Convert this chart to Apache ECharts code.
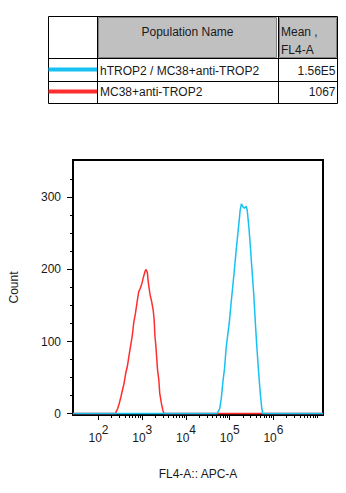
<!DOCTYPE html>
<html>
<head>
<meta charset="utf-8">
<script src="https://cdn.jsdelivr.net/npm/echarts@6/dist/echarts.min.js"></script>
<style>
html,body{margin:0;padding:0;background:#fff;}
#chart{width:346px;height:493px;}
</style>
</head>
<body>
<div id="chart"></div>
<script>
// ---- data (x in log10 decades of FL4-A fluorescence, y = count) ----
const xMin = 1.416, xMax = 7.133;   // displayed range of the FL4-A axis (decades)
const yMin = -2, yMax = 352;

const redName = 'MC38+anti-TROP2';
const redMean = '1067';
const redX = [1.416, 2.384, 2.438, 2.473, 2.511, 2.549, 2.584, 2.622, 2.660, 2.696, 2.733, 2.771, 2.807, 2.844, 2.882, 2.918, 2.956, 2.993, 3.029, 3.067, 3.089, 3.118, 3.140, 3.178, 3.216, 3.251, 3.273, 3.289, 3.311, 3.327, 3.349, 3.378, 3.400, 3.438, 3.473, 3.496, 7.133];
const redCount = [0, 0, 7, 14, 23, 33, 42, 56, 66, 80, 94, 108, 127, 139, 155, 169, 174, 181, 190, 198, 200, 195, 181, 165, 155, 143, 129, 108, 94, 80, 61, 47, 28, 14, 4, 0, 0];

const blueName = 'hTROP2 / MC38+anti-TROP2';
const blueMean = '1.56E5';
const blueX = [1.416, 4.711, 4.771, 4.807, 4.844, 4.882, 4.918, 4.956, 4.993, 5.029, 5.067, 5.104, 5.140, 5.178, 5.216, 5.238, 5.267, 5.304, 5.340, 5.378, 5.400, 5.438, 5.473, 5.511, 5.549, 5.584, 5.622, 5.660, 5.696, 5.733, 5.756, 7.133];
const blueCount = [0, 0, 7, 21, 44, 63, 91, 110, 128, 152, 175, 198, 222, 245, 268, 282, 291, 287, 285, 288, 282, 259, 231, 198, 166, 128, 91, 58, 30, 7, 0, 0];

const xMajorDecades = [2, 3, 4, 5, 6];
const xMinorMultipliers = [2, 3, 4, 5, 6, 7, 8, 9];
const yMajorTicks = [0, 100, 200, 300];
const yMinorTicks = [25, 50, 75, 125, 150, 175, 225, 250, 275, 325];

const tableHeader = ['Population Name', 'Mean ,', 'FL4-A'];
const xTitle = 'FL4-A:: APC-A';
const yTitle = 'Count';

// ---- build ----
const xMinor = [];
xMajorDecades.forEach(function (d) {
  xMinorMultipliers.forEach(function (k) { xMinor.push(d + Math.log10(k)); });
});
xMinor.push(7);

const pairs = (xs, ys) => xs.map((x, i) => [x, ys[i]]);

const FONT = '"Liberation Sans", Arial, sans-serif';
const RED = '#ff2d2d';
const BLUE = '#17c1f2';
const TXT = '#1a1a1a';

const chart = echarts.init(document.getElementById('chart'), null, {renderer: 'svg'});

const graphics = [
  // table outer frame
  {type: 'rect', shape: {x: 48.5, y: 16.5, width: 289, height: 87}, style: {fill: '#fff', stroke: '#000', lineWidth: 1}, z: 1},
  // header gray cells
  {type: 'rect', shape: {x: 98.5, y: 17.5, width: 178, height: 40}, style: {fill: '#c0c0c0', stroke: '#808080', lineWidth: 1}, z: 2},
  {type: 'rect', shape: {x: 279.5, y: 17.5, width: 57, height: 40}, style: {fill: '#c0c0c0', stroke: '#808080', lineWidth: 1}, z: 2},
  // grid lines
  {type: 'line', shape: {x1: 97.5, y1: 16.5, x2: 97.5, y2: 103.5}, style: {stroke: '#000', lineWidth: 1}, z: 3},
  {type: 'line', shape: {x1: 278.5, y1: 16.5, x2: 278.5, y2: 103.5}, style: {stroke: '#000', lineWidth: 1}, z: 3},
  {type: 'line', shape: {x1: 48.5, y1: 58.5, x2: 337.5, y2: 58.5}, style: {stroke: '#000', lineWidth: 1}, z: 3},
  {type: 'line', shape: {x1: 48.5, y1: 81.5, x2: 337.5, y2: 81.5}, style: {stroke: '#000', lineWidth: 1}, z: 3},
  // legend swatches
  {type: 'line', shape: {x1: 48.5, y1: 69.5, x2: 97, y2: 69.5}, style: {stroke: BLUE, lineWidth: 4}, z: 4},
  {type: 'line', shape: {x1: 48.5, y1: 91.5, x2: 97, y2: 91.5}, style: {stroke: RED, lineWidth: 4}, z: 4},
  // texts
  {type: 'text', x: 187.5, y: 32, style: {text: tableHeader[0], font: '12px ' + FONT, fill: TXT, align: 'center', verticalAlign: 'middle'}, z: 5},
  {type: 'text', x: 281, y: 32, style: {text: tableHeader[1], font: '12px ' + FONT, fill: TXT, align: 'left', verticalAlign: 'middle'}, z: 5},
  {type: 'text', x: 281, y: 49.5, style: {text: tableHeader[2], font: '12px ' + FONT, fill: TXT, align: 'left', verticalAlign: 'middle'}, z: 5},
  {type: 'text', x: 100, y: 70.5, style: {text: blueName, font: '12px ' + FONT, fill: TXT, align: 'left', verticalAlign: 'middle'}, z: 5},
  {type: 'text', x: 335.5, y: 70.5, style: {text: blueMean, font: '12px ' + FONT, fill: TXT, align: 'right', verticalAlign: 'middle'}, z: 5},
  {type: 'text', x: 100, y: 92, style: {text: redName, font: '12px ' + FONT, fill: TXT, align: 'left', verticalAlign: 'middle'}, z: 5},
  {type: 'text', x: 335.5, y: 92, style: {text: redMean, font: '12px ' + FONT, fill: TXT, align: 'right', verticalAlign: 'middle'}, z: 5}
];

const option = {
  animation: false,
  backgroundColor: '#fff',
  textStyle: {fontFamily: FONT},
  grid: {left: 66, right: 23, top: 160, bottom: 78, show: true, borderColor: '#000', borderWidth: 2, backgroundColor: 'transparent'},
  xAxis: [
    {
      type: 'value', min: xMin, max: xMax, position: 'bottom', offset: 0,
      name: xTitle, nameLocation: 'middle', nameGap: 53,
      nameTextStyle: {fontSize: 12, color: TXT, fontFamily: FONT},
      axisLine: {show: true, onZero: false, lineStyle: {color: '#000', width: 2}},
      axisTick: {show: true, length: 5, customValues: xMajorDecades, lineStyle: {color: '#000', width: 1}},
      axisLabel: {
        show: true, margin: 13, customValues: xMajorDecades,
        formatter: function (v) { return '{a|10}{b|' + Math.round(v) + '}'; },
        rich: {
          a: {fontSize: 12, fontFamily: FONT, color: TXT, lineHeight: 12, padding: [8, 0, 0, 0]},
          b: {fontSize: 12, fontFamily: FONT, color: TXT, lineHeight: 12, padding: [0, 0, 8, 0]}
        }
      },
      splitLine: {show: false}
    },
    {
      type: 'value', min: xMin, max: xMax, position: 'bottom', offset: 0,
      axisLine: {show: false, onZero: false},
      axisTick: {show: true, length: 3, customValues: xMinor, lineStyle: {color: '#000', width: 1}},
      axisLabel: {show: false},
      splitLine: {show: false}
    }
  ],
  yAxis: [
    {
      type: 'value', min: yMin, max: yMax, position: 'left', offset: 0,
      name: yTitle, nameLocation: 'middle', nameGap: 53, nameRotate: 90,
      nameTextStyle: {fontSize: 12, color: TXT, fontFamily: FONT},
      axisLine: {show: true, onZero: false, lineStyle: {color: '#000', width: 2}},
      axisTick: {show: true, length: 6, customValues: yMajorTicks, lineStyle: {color: '#000', width: 1}},
      axisLabel: {show: true, margin: 12, customValues: yMajorTicks, fontSize: 12, color: TXT, fontFamily: FONT},
      splitLine: {show: false}
    },
    {
      type: 'value', min: yMin, max: yMax, position: 'left', offset: 0,
      axisLine: {show: false, onZero: false},
      axisTick: {show: true, length: 3, customValues: yMinorTicks, lineStyle: {color: '#000', width: 1}},
      axisLabel: {show: false},
      splitLine: {show: false}
    }
  ],
  series: [
    {
      name: redName, type: 'line', xAxisIndex: 0, yAxisIndex: 0,
      data: pairs(redX, redCount), showSymbol: false, symbol: 'none',
      lineStyle: {color: RED, width: 1.5}, z: 2
    },
    {
      name: blueName, type: 'line', xAxisIndex: 0, yAxisIndex: 0,
      data: pairs(blueX, blueCount), showSymbol: false, symbol: 'none',
      lineStyle: {color: BLUE, width: 1.5}, z: 3
    }
  ],
  graphic: graphics
};
chart.setOption(option);
</script>
</body>
</html>
